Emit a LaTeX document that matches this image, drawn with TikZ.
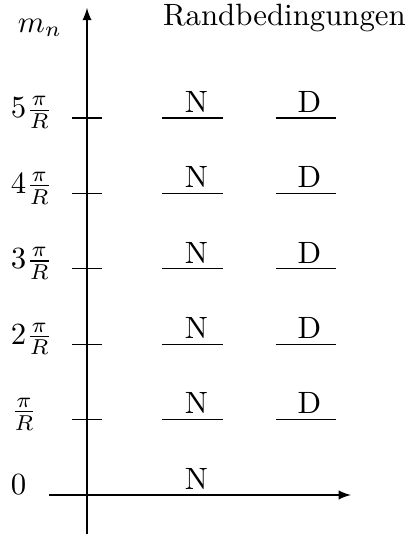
\documentclass[tikz,border=0pt]{standalone}
\usetikzlibrary{arrows}
\begin{document}
\begin{tikzpicture}[x=0.86cm, y=0.86cm]
  \useasboundingbox (-1.154,-0.544) rectangle (4.27,6.565);
  % Axes
  \coordinate (xstart) at (-0.5,0);
  \coordinate (xend) at (3.5,0);
  \coordinate (ystart) at (0,-0.52);
  \coordinate (yend) at (0,6.46);
  \draw[-latex] (xstart) -- (xend);
  \draw[-latex] (ystart) -- (yend);

  \node[anchor=base west] (mn) at (-1.06,6.14) {$m_n$};
  \node[anchor=base west, inner sep=0pt] (rand) at (1.0,6.22) {Randbedingungen};

  % Level 0: only N
  \node[anchor=base west] (lab0) at (-1.154,0) {$0$};
  \draw (1,0) -- (1.8,0);
  \node[anchor=base] (n0) at (1.45,0.075) {N};

  % Levels m_n = k pi/R
  \foreach \k/\lab in {1/{\frac{\pi}{R}}, 2/{2\frac{\pi}{R}}, 3/{3\frac{\pi}{R}}, 4/{4\frac{\pi}{R}}, 5/{5\frac{\pi}{R}}} {
    \draw (-0.2,\k) -- (0.2,\k);
    \node[anchor=base west] (lab\k) at (-1.154,\k) {$\lab$};
    \draw (1,\k) -- (1.8,\k);
    \draw (2.5,\k) -- (3.3,\k);
    \node[anchor=base] (n\k) at (1.45,\k+0.075) {N};
    \node[anchor=base] (d\k) at (2.95,\k+0.075) {D};
  }
\end{tikzpicture}
\end{document}
